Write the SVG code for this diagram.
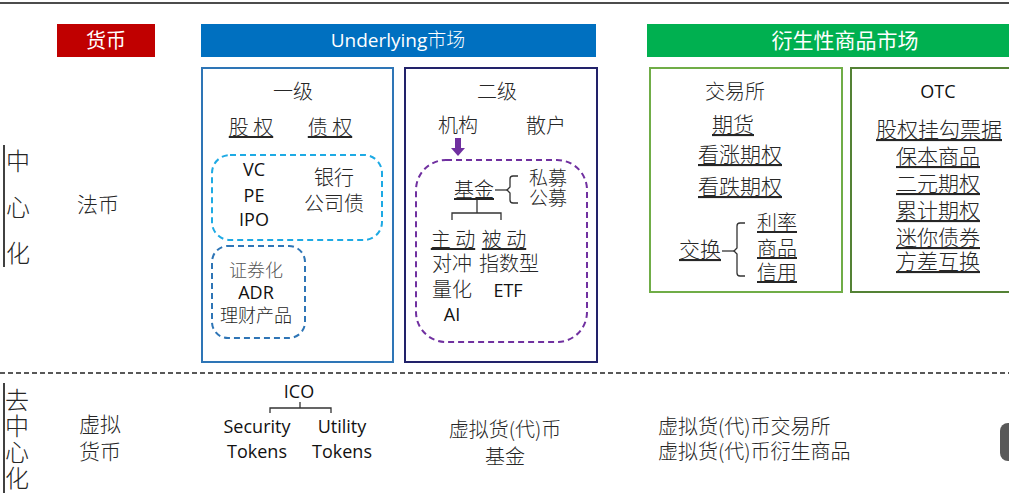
<svg xmlns="http://www.w3.org/2000/svg" width="1009" height="496" viewBox="0 0 1009 496">
<defs>
<style>
.zh { font-family: "Noto Sans CJK SC", "Noto Sans CJK JP", sans-serif; font-size: 20px; fill: #262626; text-anchor: middle; font-weight: 300; }
.en { font-family: "Open Sans", "Liberation Sans", sans-serif; font-size: 18px; fill: #111; text-anchor: middle; }
.u { text-decoration: underline; }
.hdr { fill: #fff; font-weight: 400; }
.vert { writing-mode: tb; text-anchor: start; font-size: 24px; }
.frame { fill: none; stroke-width: 2; }
.dash { fill: none; stroke-width: 2; stroke-dasharray: 6 4; }
.conn { fill: none; stroke: #333; stroke-width: 1.3; }
.rule { stroke: #111; stroke-width: 1.6; }
</style>
</defs>

<rect x="0" y="0" width="1009" height="496" fill="#fff"/>
<line class="rule" x1="0" y1="3" x2="1009" y2="3" stroke-width="2"/>

<!-- column headers -->
<g id="header-currency">
  <rect x="57" y="24" width="98" height="33" fill="#C00000"/>
  <text class="zh hdr" x="106" y="48">货币</text>
</g>
<g id="header-underlying">
  <rect x="201" y="24" width="395" height="33" fill="#0070C0"/>
  <text class="en hdr" x="398" y="47" style="font-size:19px">Underlying<tspan style="font-family:'Noto Sans CJK SC',sans-serif;font-weight:300">市场</tspan></text>
</g>
<g id="header-derivative">
  <rect x="647" y="24" width="362" height="33" fill="#00B050"/>
  <text class="zh hdr" x="845" y="48" style="font-size:21px">衍生性商品市场</text>
</g>

<!-- centralised row -->
<g id="label-centralised">
  <line class="rule" x1="4" y1="145" x2="4" y2="267"/>
  <text class="zh vert" x="18" y="149" letter-spacing="22">中心化</text>
</g>
<g id="node-fiat">
  <text class="zh" x="98" y="212" style="font-size:21px">法币</text>
</g>

<g id="node-primary">
  <rect class="frame" x="202" y="68" width="191" height="294" stroke="#2E75B6"/>
  <text class="zh" x="293" y="99">一级</text>
  <text class="zh u" x="251" y="135">股 权</text>
  <text class="zh u" x="330" y="135">债 权</text>
</g>
<g id="node-equity-debt">
  <rect class="dash" x="212" y="155" width="170" height="85" rx="18" stroke="#1EAAE4"/>
  <text class="en"><tspan x="254" y="176">VC</tspan><tspan x="254" y="202">PE</tspan><tspan x="254" y="226">IPO</tspan></text>
  <text class="zh"><tspan x="334" y="185">银行</tspan><tspan x="334" y="211">公司债</tspan></text>
</g>
<g id="node-securitisation">
  <rect class="dash" x="212" y="246" width="93" height="92" rx="16" stroke="#2E75B6"/>
  <text class="zh" style="font-size:18px"><tspan x="256" y="277" style="fill:#555">证券化</tspan><tspan x="256" y="299" style="font-family:'Open Sans','Liberation Sans',sans-serif;fill:#111;font-weight:400">ADR</tspan><tspan x="256" y="322">理财产品</tspan></text>
</g>

<g id="node-secondary">
  <rect class="frame" x="405" y="68" width="192" height="294" stroke="#22226A"/>
  <text class="zh" x="497" y="99">二级</text>
  <text class="zh" x="458" y="133">机构</text>
  <text class="zh" x="546" y="133">散户</text>
</g>
<g id="node-funds">
  <rect class="dash" x="416" y="160" width="171" height="182" rx="30" stroke="#7030A0"/>
  <text class="zh u" x="474" y="197">基金</text>
  <text class="zh" style="font-size:19px"><tspan x="548" y="185">私募</tspan><tspan x="548" y="205">公募</tspan></text>
  <text class="zh u" x="453" y="247">主 动</text>
  <text class="zh u" x="504" y="247">被 动</text>
  <text class="zh"><tspan x="452" y="271">对冲</tspan><tspan x="452" y="297">量化</tspan><tspan x="452" y="321" style="font-family:'Open Sans','Liberation Sans',sans-serif;font-size:18px;fill:#111;font-weight:400">AI</tspan></text>
  <text class="zh"><tspan x="509" y="271">指数型</tspan><tspan x="508" y="297" style="font-family:'Open Sans','Liberation Sans',sans-serif;font-size:18px;fill:#111;font-weight:400">ETF</tspan></text>
</g>

<g id="node-exchange">
  <rect class="frame" x="650" y="68" width="192" height="224" stroke="#70AD47"/>
  <text class="zh" x="735" y="99">交易所</text>
  <text class="zh u" style="font-size:21px"><tspan x="733" y="132">期货</tspan><tspan x="740" y="162">看涨期权</tspan><tspan x="740" y="194">看跌期权</tspan></text>
  <text class="zh u" x="700" y="257" style="font-size:21px">交换</text>
  <text class="zh u"><tspan x="777" y="230">利率</tspan><tspan x="777" y="256">商品</tspan><tspan x="777" y="280">信用</tspan></text>
</g>

<g id="node-otc">
  <rect class="frame" x="851" y="68" width="170" height="224" stroke="#548235"/>
  <text class="en" x="938" y="98">OTC</text>
  <text class="zh u" style="font-size:21px"><tspan x="939" y="137">股权挂勾票据</tspan><tspan x="938" y="164">保本商品</tspan><tspan x="938" y="191">二元期权</tspan><tspan x="938" y="218">累计期权</tspan><tspan x="938" y="245">迷你债券</tspan><tspan x="938" y="269">方差互换</tspan></text>
</g>

<!-- decentralised row -->
<g id="label-decentralised">
  <line class="rule" x1="4" y1="383" x2="4" y2="493"/>
  <text class="zh vert" x="17" y="388" letter-spacing="2">去中心化</text>
</g>
<g id="node-virtual-currency">
  <text class="zh" style="font-size:21px"><tspan x="100" y="432">虚拟</tspan><tspan x="100" y="459">货币</tspan></text>
</g>
<g id="node-ico">
  <text class="en" x="299" y="398">ICO</text>
  <text class="en"><tspan x="257" y="433">Security</tspan><tspan x="257" y="458">Tokens</tspan></text>
  <text class="en"><tspan x="342" y="433">Utility</tspan><tspan x="342" y="458">Tokens</tspan></text>
</g>
<g id="node-crypto-fund">
  <text class="zh"><tspan x="505" y="437">虚拟货(代)币</tspan><tspan x="505" y="464">基金</tspan></text>
</g>
<g id="node-crypto-exchange">
  <text class="zh" style="text-anchor:start"><tspan x="658" y="434">虚拟货(代)币交易所</tspan><tspan x="658" y="459">虚拟货(代)币衍生商品</tspan></text>
</g>

<!-- connectors and dividers -->
<g id="connectors">
  <line x1="0" y1="373" x2="1009" y2="373" stroke="#222" stroke-width="1.3" stroke-dasharray="5 3"/>
  <!-- institutions to funds -->
  <path d="M455,138 H461 V148 H465 L458,156 L451,148 H455 Z" fill="#7030A0"/>
  <!-- fund: private / public -->
  <path class="conn" d="M495,190 H507"/>
  <path class="conn" d="M518,176 H513 Q510,176 510,179 V187 L507,190 L510,193 V200 Q510,203 513,203 H518"/>
  <!-- fund: active / passive -->
  <path class="conn" d="M477,200 V213 M452,220 V213 H501 V220"/>
  <!-- swap: rate / commodity / credit -->
  <path class="conn" d="M722,251 H734"/>
  <path class="conn" d="M745,223 H740 Q737,223 737,226 V248 L734,251 L737,254 V273 Q737,276 740,276 H745"/>
  <!-- ICO tokens -->
  <path class="conn" d="M300,402 V408 M270,413 V408 H331 V413"/>
</g>

<rect x="1000" y="423" width="20" height="38" rx="8" fill="#595959"/>
</svg>
